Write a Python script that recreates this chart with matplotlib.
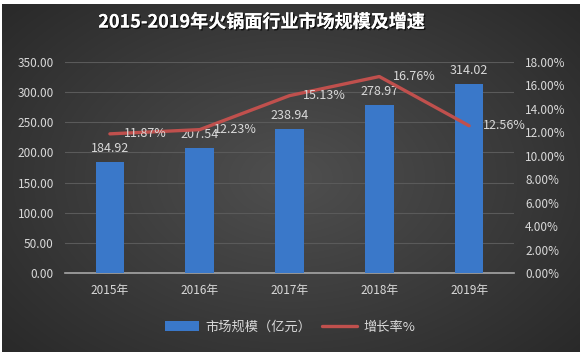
import numpy as np
import matplotlib
matplotlib.use("Agg")
import matplotlib.pyplot as plt
import matplotlib.patheffects as pe
from matplotlib.ticker import FuncFormatter, MultipleLocator

plt.rcParams['font.family'] = ['Noto Sans CJK SC', 'DejaVu Sans']

# --- dados ---
anos = ["2015年", "2016年", "2017年", "2018年", "2019年"]
mercado = [184.92, 207.54, 238.94, 278.97, 314.02]
crescimento = [11.87, 12.23, 15.13, 16.76, 12.56]

TXT = "#d9d9d9"

fig = plt.figure(figsize=(5.8, 3.52), dpi=100)
fig.patch.set_facecolor("white")

# fundo escuro com gradiente radial
bg = fig.add_axes([2 / 580, 0, 1 - 2 / 580, 1 - 4 / 352], zorder=-10)
yy, xx = np.mgrid[-1:1:200j, -1:1:300j]
r = np.sqrt(xx ** 2 + (yy * 0.9) ** 2)
g = np.clip(0.31 - 0.11 * r, 0, 1)
bg.imshow(np.dstack([g, g, g]), aspect="auto", extent=[0, 1, 0, 1],
          interpolation="bilinear")
bg.axis("off")

ax = fig.add_axes([65 / 580, 1 - 273 / 352, 449 / 580, 211 / 352])
ax.set_facecolor("none")
x = np.arange(len(anos))

bars = ax.bar(x, mercado, width=0.32, color="#3a78c9", zorder=3)
ax.set_ylim(0, 350)
ax.set_xlim(-0.5, len(anos) - 0.5)
ax.yaxis.set_major_locator(MultipleLocator(50))
ax.yaxis.set_major_formatter(FuncFormatter(lambda v, p: f"{v:.2f}"))
ax.grid(axis="y", color="#5a5a5a", linewidth=0.8, zorder=0)
ax.set_xticks(x)
ax.set_xticklabels(anos)
ax.tick_params(colors=TXT, labelsize=8.5, length=0, pad=8)
for s in ["top", "left", "right"]:
    ax.spines[s].set_visible(False)
ax.spines["bottom"].set_color("#a6a6a6")
ax.spines["bottom"].set_linewidth(1.2)

for xi, v in zip(x, mercado):
    ax.annotate(f"{v:.2f}", (xi, v), xytext=(0, 5), textcoords="offset points",
                ha="center", va="bottom", color=TXT, fontsize=9, zorder=5)

ax2 = ax.twinx()
ax2.set_facecolor("none")
linha, = ax2.plot(x, crescimento, color="#c0504d", linewidth=2.4,
                  solid_capstyle="round", zorder=4)
ax2.set_ylim(0, 18)
ax2.yaxis.set_major_locator(MultipleLocator(2))
ax2.yaxis.set_major_formatter(FuncFormatter(lambda v, p: f"{v:.2f}%"))
ax2.tick_params(colors=TXT, labelsize=8.5, length=0, pad=8)
for s in ax2.spines.values():
    s.set_visible(False)

for xi, v in zip(x, crescimento):
    ax2.annotate(f"{v:.2f}%", (xi, v), xytext=(10, 0), textcoords="offset points",
                 ha="left", va="center", color=TXT, fontsize=9, zorder=6)

fig.text(261 / 580, 1 - 22 / 352, "2015-2019年火锅面行业市场规模及增速", ha="center",
         va="center", color="white", fontsize=13, fontweight="bold",
         path_effects=[pe.withSimplePatchShadow(offset=(1, -1), shadow_rgbFace="black", alpha=0.7),
                       pe.Normal()])

leg = fig.legend([bars, linha], ["市场规模（亿元）", "增长率%"], loc="center",
                 bbox_to_anchor=(0.5, 1 - 327 / 352), ncol=2, frameon=False,
                 fontsize=9.5, handlelength=2.6, columnspacing=0.8, handletextpad=0.5)
for t in leg.get_texts():
    t.set_color(TXT)

plt.savefig("out.png", dpi=100, facecolor=fig.get_facecolor())
plt.close()
